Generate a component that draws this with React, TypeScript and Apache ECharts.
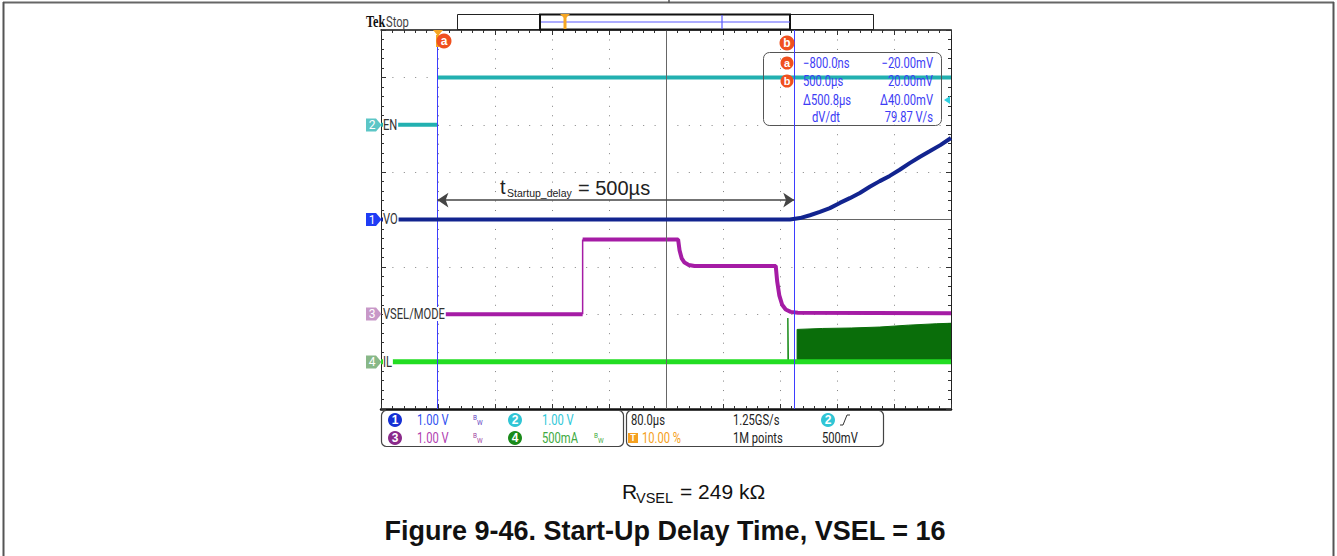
import React, { useEffect, useRef } from "react";
import * as echarts from "echarts";

// ---------------- data (time in µs from trigger, channel units) ----------------
const timeMin = -80;
const timeMax = 720;
const timeDiv = 80; // 80.0 µs/div
const cursorA = -0.8;
const cursorB = 500.0;
const screenCenter = 320;
const arrowLevelDiv = 0.41;

// Ch2 EN (1.00 V/div, ground at +2 div) – null = gap at the fast edge
const enTime = [-80, -0.8, -0.8, -0.8, 720];
const enVolt = [0, 0, null, 1.0, 1.0];

// Ch1 VO (1.00 V/div, ground at centre)
const voTime = [-80, 494, 508, 522, 536, 550, 564, 578, 592, 606, 620, 634, 648, 662, 676, 690, 705, 720];
const voVolt = [0, 0, 0.03, 0.09, 0.16, 0.24, 0.35, 0.45, 0.56, 0.69, 0.81, 0.92, 1.05, 1.19, 1.32, 1.44, 1.57, 1.72];

// Ch3 VSEL/MODE (1.00 V/div, ground at -2 div)
const vselTime = [0, 203, 203, 203, 337, 339, 342, 346, 352, 360, 474, 476, 479, 483, 488, 495, 505, 720];
const vselVolt = [0, 0, null, 1.58, 1.58, 1.35, 1.18, 1.09, 1.04, 1.02, 1.02, 0.7, 0.4, 0.2, 0.1, 0.05, 0.03, 0.02];
const vselEdgeTime = [203, 203];
const vselEdgeVolt = [0, 1.58];

// Ch4 IL (500 mA/div, zero at -3 div)
const ilTime = [-80, 720];
const ilAmp = [0, 0];
const ilFirstPulseTime = [491, 491, 492];
const ilFirstPulse = [0, 460, 0];
const ilSwitchTime = [504, 504, 540, 580, 620, 660, 700, 720];
const ilSwitchPeak = [0, 340, 350, 355, 365, 385, 400, 405];

const zip = (a: number[], b: (number | null)[]) => a.map((v, i) => [v, b[i] === null ? "-" : b[i]]);

const SCOPE_FONT = "Roboto,'DejaVu Sans',sans-serif";
const SCOPE_SX = 0.8;
const ARIAL = "'Liberation Sans',Arial,sans-serif";

function txt(x: number, y: number, text: string, size: number, fill: string, o: any = {}) {
  const scope = !o.family;
  return {
    type: "text",
    x,
    y,
    z: o.z ?? 60,
    scaleX: o.sx ?? (scope ? SCOPE_SX : 1),
    style: {
      text,
      fill,
      fontSize: size,
      fontFamily: o.family || SCOPE_FONT,
      fontWeight: o.weight || "normal",
      textAlign: o.align || "left",
      textVerticalAlign: "middle",
      backgroundColor: o.bg,
      padding: o.pad,
    },
  };
}

function circ(x: number, y: number, r: number, fill: string, ch: string, tf = "#fff", size = 11) {
  return {
    type: "group",
    x,
    y,
    z: 60,
    children: [
      { type: "circle", shape: { cx: 0, cy: 0, r }, style: { fill }, z: 60 },
      {
        type: "text",
        x: 0,
        y: 0,
        z: 61,
        style: { text: ch, fill: tf, fontSize: size, fontWeight: "bold", fontFamily: ARIAL, textAlign: "center", textVerticalAlign: "middle" },
      },
    ],
  };
}

function chMarker(y: number, fill: string, ch: string, label: string, tf = "#fff") {
  return [
    {
      type: "polygon",
      z: 70,
      shape: { points: [[366, y - 6.5], [376, y - 6.5], [381.5, y], [376, y + 6.5], [366, y + 6.5]] },
      style: { fill },
    },
    txt(372, y, ch, 12, tf, { z: 71, align: "center", sx: 1 }),
    txt(383, y, label, 14, "#333", { z: 71, bg: "#fff", pad: [0, 1, 0, 0] }),
  ];
}

function bw(x: number, y: number, fill: string) {
  return [txt(x, y - 3, "B", 8, fill), txt(x + 4, y + 2, "W", 8, fill)];
}

function line(x1: number, y1: number, x2: number, y2: number, stroke: string, w = 1, z = 40) {
  return { type: "line", z, shape: { x1, y1, x2, y2 }, style: { stroke, lineWidth: w } };
}

const GRID_DOT = "#808080";

function frameAxisX(position: "bottom" | "top", width: number) {
  return {
    type: "value",
    position,
    min: timeMin,
    max: timeMax,
    interval: timeDiv,
    axisLine: { onZero: false, lineStyle: { color: "#111", width } },
    axisTick: { show: true, inside: true, length: 5, lineStyle: { color: "#333" } },
    minorTick: { show: true, splitNumber: 5, length: 3, lineStyle: { color: "#333" } },
    axisLabel: { show: false },
    splitLine: { show: position === "bottom", lineStyle: { color: GRID_DOT, width: 1, type: [1, 8.475] } },
  };
}

function frameAxisY(position: "left" | "right") {
  return {
    type: "value",
    position,
    min: -4,
    max: 4,
    interval: 1,
    axisLine: { onZero: false, lineStyle: { color: "#222", width: 1 } },
    axisTick: { show: true, inside: true, length: 5, lineStyle: { color: "#333" } },
    minorTick: { show: true, splitNumber: 5, length: 3, lineStyle: { color: "#333" } },
    axisLabel: { show: false },
    splitLine: { show: position === "left", lineStyle: { color: GRID_DOT, width: 1, type: [1, 10.4] } },
  };
}

function hiddenY(min: number, max: number) {
  return { type: "value", min, max, show: false, axisLine: { onZero: false }, splitLine: { show: false } };
}

export default function App() {
  const ref = useRef<HTMLDivElement>(null);
  useEffect(() => {
    if (!ref.current) return;
    const chart = echarts.init(ref.current, null, { renderer: "svg" });
    const BLUE_T = "#3c3cf5";
    const graphic: any[] = [
      // page frame
      line(3, 2.5, 1334, 2.5, "#666", 2),
      line(3.5, 2, 3.5, 556, "#555", 2),
      line(1333.5, 2, 1333.5, 556, "#555", 2),
      line(669, 0, 669, 3, "#555", 1.5),
      // Tek Stop
      txt(366, 21, "Tek", 17, "#111", { weight: "bold", family: "'Liberation Serif',serif", sx: 0.72 }),
      txt(386, 22, "Stop", 14, "#444"),
      // record bar
      { type: "rect", z: 40, shape: { x: 457.5, y: 14.5, width: 416, height: 15 }, style: { fill: "none", stroke: "#222", lineWidth: 1 } },
      { type: "rect", z: 41, shape: { x: 540, y: 14.5, width: 250, height: 15 }, style: { fill: "none", stroke: "#111", lineWidth: 2 } },
      line(541, 22, 790, 22, "#5a5aff", 1.2, 42),
      line(722, 15, 722, 29, "#5a5aff", 1.2, 42),
      { type: "rect", z: 43, shape: { x: 563.5, y: 17, width: 3, height: 12 }, style: { fill: "#f5a623" } },
      { type: "polygon", z: 43, shape: { points: [[560, 14], [570, 14], [565, 19]] }, style: { fill: "#f5a623" } },
      // cursor a / b flags
      { type: "polygon", z: 60, shape: { points: [[433, 30], [443, 30], [438, 36]] }, style: { fill: "#f5a623" } },
      { type: "rect", z: 60, shape: { x: 436, y: 35, width: 3, height: 12 }, style: { fill: "#f5a623" } },
      circ(444, 41, 7.5, "#f0501e", "a", "#fff", 12),
      circ(787, 43, 7.5, "#f0501e", "b", "#fff", 12),
      // cursor readout
      { type: "rect", z: 5, shape: { x: 763.5, y: 52.5, width: 178, height: 73, r: 6 }, style: { fill: "none", stroke: "#555", lineWidth: 1 } },
      circ(787, 63, 6.5, "#f0501e", "a", "#fff", 11),
      circ(787, 81, 6.5, "#f0501e", "b", "#fff", 11),
      txt(803, 63, "\u2212800.0ns", 14, BLUE_T, { z: 5 }),
      txt(933, 63, "\u221220.00mV", 14, BLUE_T, { z: 5, align: "right" }),
      txt(803, 81, "500.0\u00b5s", 14, BLUE_T, { z: 5 }),
      txt(933, 81, "20.00mV", 14, BLUE_T, { z: 5, align: "right" }),
      txt(803, 100, "\u0394500.8\u00b5s", 14, BLUE_T, { z: 5 }),
      txt(933, 100, "\u039440.00mV", 14, BLUE_T, { z: 5, align: "right" }),
      txt(812, 117, "dV/dt", 14, BLUE_T, { z: 5 }),
      txt(933, 117, "79.87 V/s", 14, BLUE_T, { z: 5, align: "right" }),
      // trigger level arrow (right)
      { type: "polygon", z: 60, shape: { points: [[944, 100], [950, 96], [950, 104]] }, style: { fill: "#30d0e0" } },
      // startup delay annotation
      txt(500, 187, "t", 20, "#222", { family: ARIAL }),
      txt(507, 193, "Startup_delay", 10.5, "#222", { family: ARIAL }),
      txt(578, 188, "= 500\u00b5s", 20, "#222", { family: ARIAL }),
      // channel markers
      ...chMarker(125, "#5cc6c6", "2", "EN"),
      ...chMarker(219.5, "#1f3cf5", "1", "VO"),
      ...chMarker(314, "#c898c8", "3", "VSEL/MODE"),
      ...chMarker(362, "#88b888", "4", "IL"),
      // status bar
      { type: "rect", z: 40, shape: { x: 381.5, y: 410.5, width: 242, height: 36, r: 5 }, style: { fill: "none", stroke: "#444", lineWidth: 1.2 } },
      { type: "rect", z: 40, shape: { x: 626.5, y: 410.5, width: 257, height: 36, r: 5 }, style: { fill: "none", stroke: "#444", lineWidth: 1.2 } },
      circ(395, 420, 7, "#1530d5", "1", "#fff", 12),
      txt(417, 420, "1.00 V", 14, "#3050f0"),
      ...bw(473, 420, "#6040c0"),
      circ(515, 420, 7, "#30c5d5", "2", "#fff", 12),
      txt(542, 420, "1.00 V", 14, "#30c8d8"),
      circ(395, 438, 7, "#8a2a8a", "3", "#fff", 12),
      txt(417, 438, "1.00 V", 14, "#b040b0"),
      ...bw(473, 438, "#a040a0"),
      circ(515, 438, 7, "#1a8a1a", "4", "#fff", 12),
      txt(542, 438, "500mA", 14, "#40aa40"),
      ...bw(594, 438, "#40aa40"),
      txt(631, 420, "80.0\u00b5s", 14, "#222"),
      txt(733, 420, "1.25GS/s", 14, "#222"),
      circ(828, 420, 7, "#30c5d5", "2", "#fff", 12),
      { type: "polyline", z: 60, shape: { points: [[840, 425], [843, 425], [847, 415], [850, 415]] }, style: { stroke: "#333", lineWidth: 1, fill: "none" } },
      { type: "rect", z: 60, shape: { x: 628, y: 433, width: 10, height: 10 }, style: { fill: "#f5a020" } },
      txt(633, 438, "T", 9, "#fff", { align: "center", weight: "bold", sx: 1 }),
      txt(642, 438, "10.00 %", 14, "#f5a020"),
      txt(733, 438, "1M points", 14, "#222"),
      txt(822, 438, "500mV", 14, "#222"),
      // captions
      txt(622, 491, "R", 21, "#111", { family: ARIAL }),
      txt(636, 498, "VSEL", 14.5, "#111", { family: ARIAL }),
      txt(680, 491, "= 249 k\u03a9", 21, "#111", { family: ARIAL }),
      txt(665, 531, "Figure 9-46. Start-Up Delay Time, VSEL = 16", 27, "#111", { family: ARIAL, weight: "bold", align: "center" }),
    ];

    chart.setOption({
      animation: false,
      backgroundColor: "#fff",
      grid: { left: 381, top: 30, width: 570, height: 379, containLabel: false },
      xAxis: [frameAxisX("bottom", 2.5), frameAxisX("top", 1.5)],
      yAxis: [frameAxisY("left"), frameAxisY("right"), hiddenY(-6, 2), hiddenY(-2, 6), hiddenY(-500, 3500)],
      series: [
        {
          name: "EN",
          type: "line",
          yAxisIndex: 2,
          data: zip(enTime, enVolt),
          showSymbol: false,
          connectNulls: false,
          lineStyle: { color: "#22b0b0", width: 4 },
          z: 3,
        },
        {
          name: "IL switching",
          type: "line",
          yAxisIndex: 4,
          data: zip(ilSwitchTime, ilSwitchPeak),
          showSymbol: false,
          lineStyle: { color: "#0a6e0a", width: 1 },
          areaStyle: { color: "#0a6e0a", opacity: 1 },
          z: 3,
        },
        {
          name: "IL first pulse",
          type: "line",
          yAxisIndex: 4,
          data: zip(ilFirstPulseTime, ilFirstPulse),
          showSymbol: false,
          lineStyle: { color: "#1a8c1a", width: 1 },
          z: 3,
        },
        {
          name: "IL",
          type: "line",
          yAxisIndex: 4,
          data: zip(ilTime, ilAmp),
          showSymbol: false,
          lineStyle: { color: "#22dd22", width: 5 },
          z: 4,
        },
        {
          name: "VSEL edge",
          type: "line",
          yAxisIndex: 3,
          data: zip(vselEdgeTime, vselEdgeVolt),
          showSymbol: false,
          lineStyle: { color: "#a51ca5", width: 1.5 },
          z: 4,
        },
        {
          name: "VSEL/MODE",
          type: "line",
          yAxisIndex: 3,
          data: zip(vselTime, vselVolt),
          showSymbol: false,
          connectNulls: false,
          lineStyle: { color: "#a51ca5", width: 4 },
          z: 4,
        },
        {
          name: "VO",
          type: "line",
          yAxisIndex: 0,
          data: zip(voTime, voVolt),
          showSymbol: false,
          lineStyle: { color: "#12248f", width: 4 },
          z: 5,
          markLine: {
            silent: true,
            symbol: "none",
            label: { show: false },
            data: [
              { xAxis: screenCenter, lineStyle: { color: "#666", width: 1, type: "solid" } },
              { yAxis: 0, lineStyle: { color: "#666", width: 1, type: "solid" } },
              { xAxis: cursorA, lineStyle: { color: "#3d3dff", width: 1, type: "solid" } },
              { xAxis: cursorB, lineStyle: { color: "#3d3dff", width: 1, type: "solid" } },
              [
                { coord: [cursorA, arrowLevelDiv], symbol: "arrow", symbolSize: 11, lineStyle: { color: "#444", width: 1.5, type: "solid" } },
                { coord: [cursorB, arrowLevelDiv], symbol: "arrow", symbolSize: 11 },
              ],
            ],
          },
        },
      ],
      graphic,
    });
    return () => chart.dispose();
  }, []);
  return <div ref={ref} style={{ position: "fixed", left: 0, top: 0, width: 1337, height: 556 }} />;
}
